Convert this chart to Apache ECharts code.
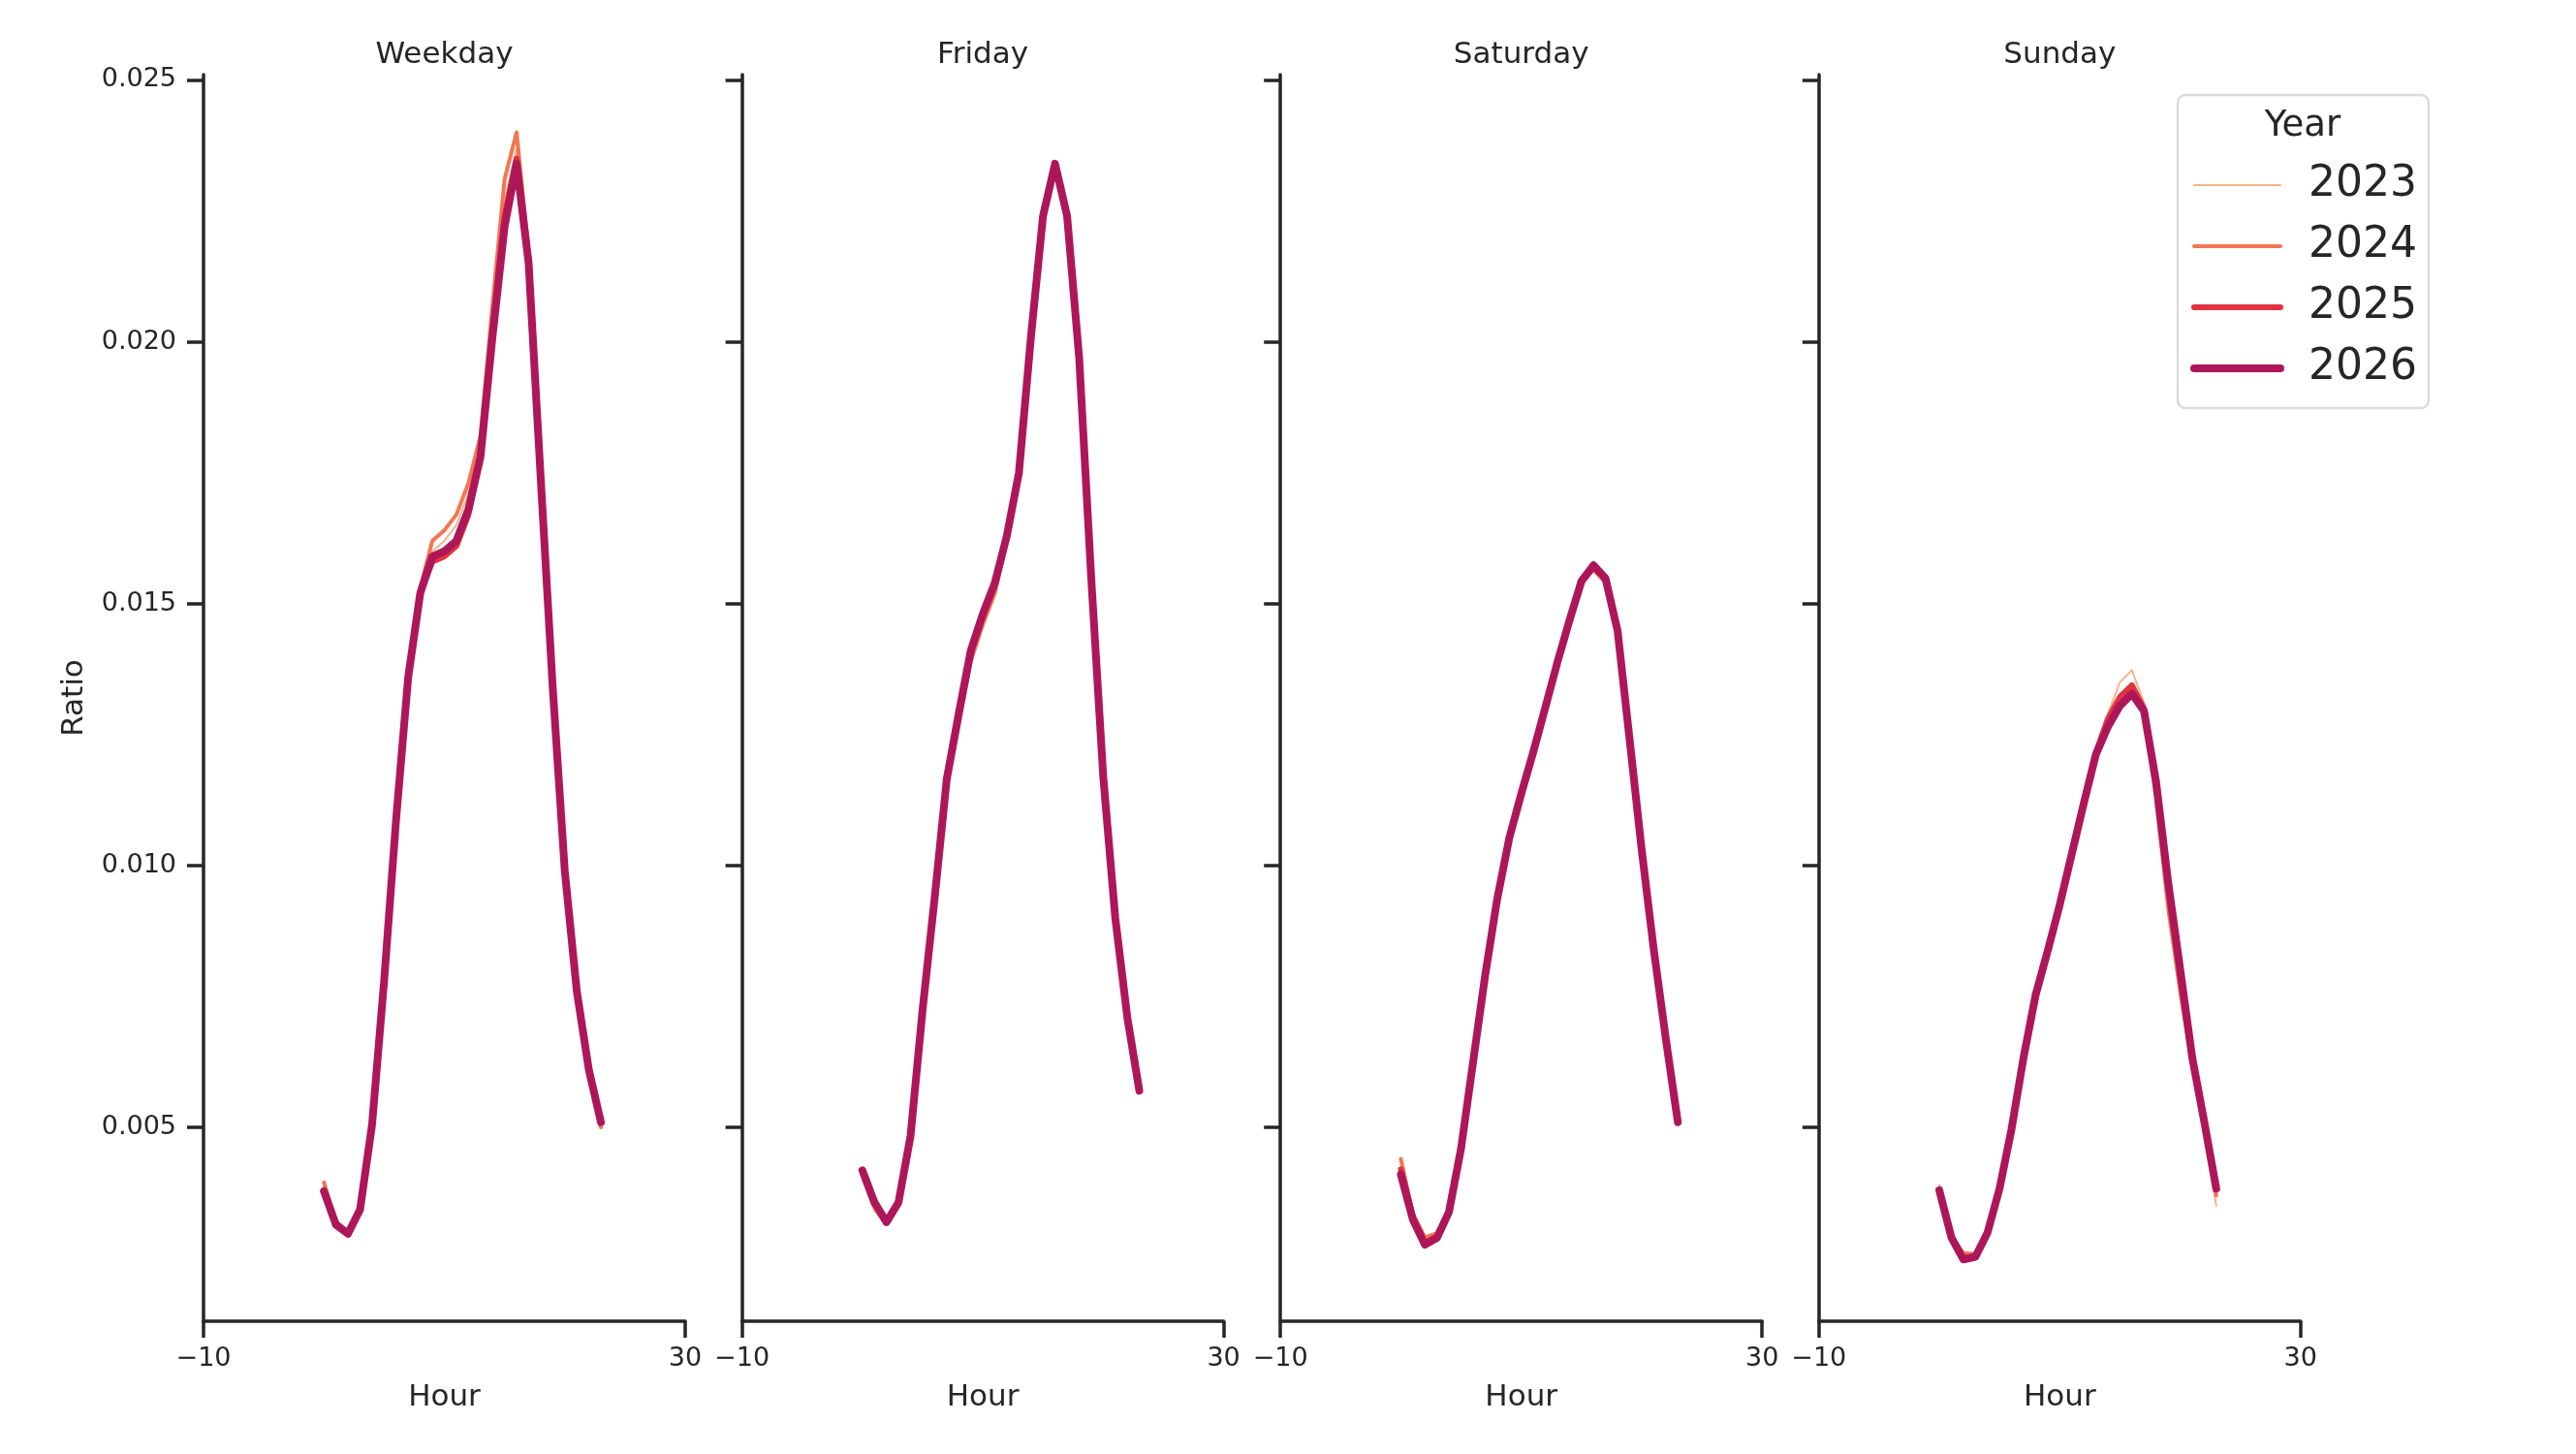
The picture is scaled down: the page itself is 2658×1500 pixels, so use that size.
<!DOCTYPE html>
<html>
<head>
<meta charset="utf-8">
<title>Ratio by hour</title>
<script src="https://cdn.jsdelivr.net/npm/echarts@6/dist/echarts.min.js"></script>
<style>
  html, body { margin: 0; padding: 0; background: #fff; }
  #chart { width: 2658px; height: 1500px; }
</style>
</head>
<body>
<div id="chart"></div>
<script>
// --- data ---
const hours = [0, 1, 2, 3, 4, 5, 6, 7, 8, 9, 10, 11, 12, 13, 14, 15, 16, 17, 18, 19, 20, 21, 22, 23]
const years = ['2023', '2024', '2025', '2026']
const panels = ['Weekday', 'Friday', 'Saturday', 'Sunday']
const xTicks = [-10, 30]
const yTicks = [0.005, 0.010, 0.015, 0.020, 0.025]

const weekday2023 = [0.00390, 0.00318, 0.00300, 0.00344, 0.00505, 0.0078, 0.0109, 0.0136, 0.0153, 0.0160, 0.0162, 0.0165, 0.0171, 0.0180, 0.0204, 0.0227, 0.0237, 0.0216, 0.0175, 0.0134, 0.0099, 0.0076, 0.0061, 0.0050]
const weekday2024 = [0.00395, 0.00320, 0.00300, 0.00345, 0.00505, 0.0078, 0.0109, 0.0136, 0.0153, 0.0162, 0.0164, 0.0167, 0.0173, 0.0182, 0.0207, 0.0231, 0.0240, 0.0217, 0.0175, 0.0134, 0.0099, 0.0076, 0.0061, 0.0050]
const weekday2025 = [0.00380, 0.00316, 0.00298, 0.00345, 0.00508, 0.0078, 0.0109, 0.0136, 0.0152, 0.0158, 0.0159, 0.0161, 0.0167, 0.0178, 0.0202, 0.0224, 0.0235, 0.0215, 0.0174, 0.0134, 0.0099, 0.0076, 0.0061, 0.0051]
const weekday2026 = [0.00378, 0.00314, 0.00297, 0.00343, 0.00506, 0.0078, 0.0109, 0.0136, 0.0152, 0.0159, 0.0160, 0.0162, 0.0168, 0.0178, 0.0201, 0.0222, 0.0234, 0.0215, 0.0174, 0.0134, 0.0099, 0.0076, 0.0061, 0.0051]

const friday2023 = [0.00400, 0.00340, 0.00315, 0.00355, 0.00484, 0.00722, 0.00935, 0.01160, 0.0128, 0.0140, 0.0147, 0.0153, 0.0163, 0.0175, 0.0201, 0.0224, 0.0234, 0.0224, 0.0197, 0.0155, 0.0117, 0.0090, 0.0071, 0.0057]
const friday2024 = [0.00410, 0.00350, 0.00318, 0.00357, 0.00484, 0.00720, 0.00930, 0.01150, 0.0127, 0.0139, 0.0146, 0.0152, 0.0162, 0.0174, 0.0201, 0.0224, 0.0234, 0.0224, 0.0197, 0.0155, 0.0117, 0.0090, 0.0071, 0.0057]
const friday2025 = [0.00415, 0.00355, 0.00319, 0.00357, 0.00484, 0.00725, 0.00938, 0.01162, 0.0129, 0.0141, 0.0148, 0.0154, 0.0163, 0.0175, 0.0201, 0.0224, 0.0234, 0.0224, 0.0197, 0.0155, 0.0117, 0.0090, 0.0071, 0.0057]
const friday2026 = [0.00418, 0.00357, 0.00319, 0.00357, 0.00484, 0.00725, 0.00938, 0.01164, 0.0129, 0.0141, 0.0148, 0.0154, 0.0163, 0.0175, 0.0201, 0.0224, 0.0234, 0.0224, 0.0197, 0.0155, 0.0117, 0.0090, 0.0071, 0.0057]

const saturday2023 = [0.0043, 0.00330, 0.00285, 0.00295, 0.00340, 0.0046, 0.00625, 0.0079, 0.00936, 0.01052, 0.01137, 0.01217, 0.01302, 0.01388, 0.01468, 0.01540, 0.01568, 0.01543, 0.01445, 0.0124, 0.0103, 0.0084, 0.0067, 0.0051]
const saturday2024 = [0.0044, 0.00335, 0.00290, 0.00298, 0.00342, 0.0046, 0.00625, 0.0079, 0.00936, 0.01052, 0.01137, 0.01217, 0.01302, 0.01388, 0.01468, 0.01540, 0.01565, 0.01540, 0.01445, 0.0124, 0.0103, 0.0084, 0.0067, 0.0051]
const saturday2025 = [0.0042, 0.00328, 0.00280, 0.00292, 0.00340, 0.0046, 0.00625, 0.0079, 0.00936, 0.01052, 0.01137, 0.01217, 0.01302, 0.01388, 0.01468, 0.01543, 0.01575, 0.01550, 0.01448, 0.0124, 0.0103, 0.0084, 0.0067, 0.0051]
const saturday2026 = [0.0041, 0.00324, 0.00276, 0.00289, 0.00339, 0.0046, 0.00625, 0.0079, 0.00936, 0.01052, 0.01137, 0.01217, 0.01302, 0.01388, 0.01468, 0.01543, 0.01573, 0.01548, 0.01448, 0.0124, 0.0103, 0.0084, 0.0067, 0.0051]

const sunday2023 = [0.0039, 0.0029, 0.00255, 0.00260, 0.00302, 0.00385, 0.00500, 0.00640, 0.00760, 0.00850, 0.00940, 0.01040, 0.01140, 0.01225, 0.01290, 0.01350, 0.01373, 0.01310, 0.01130, 0.00920, 0.00750, 0.00610, 0.00490, 0.00350]
const sunday2024 = [0.0038, 0.0029, 0.00260, 0.00258, 0.00300, 0.00384, 0.00498, 0.00636, 0.00755, 0.00840, 0.00928, 0.01025, 0.01122, 0.01215, 0.01272, 0.01315, 0.01338, 0.01290, 0.01130, 0.00920, 0.00760, 0.00620, 0.00500, 0.00370]
const sunday2025 = [0.0038, 0.0029, 0.00250, 0.00255, 0.00300, 0.00383, 0.00497, 0.00634, 0.00753, 0.00837, 0.00925, 0.01022, 0.01120, 0.01215, 0.01280, 0.01322, 0.01344, 0.01300, 0.01160, 0.00970, 0.00802, 0.00634, 0.00511, 0.00383]
const sunday2026 = [0.0038, 0.0029, 0.00248, 0.00253, 0.00299, 0.00383, 0.00497, 0.00634, 0.00753, 0.00837, 0.00925, 0.01022, 0.01119, 0.01212, 0.01265, 0.01305, 0.01328, 0.01295, 0.01160, 0.00969, 0.00802, 0.00634, 0.00511, 0.00383]

const panelData = [
  [weekday2023, weekday2024, weekday2025, weekday2026],
  [friday2023, friday2024, friday2025, friday2026],
  [saturday2023, saturday2024, saturday2025, saturday2026],
  [sunday2023, sunday2024, sunday2025, sunday2026],
]

// --- style ---
const ink = '#262626'
const font = 'DejaVu Sans'
const yearColors = ['#f6b48f', '#f37651', '#e13342', '#ad1759']
const yearWidths = [2, 4, 6, 8]

const gridLeft = 210
const gridStep = 555.6
const gridWidth = 497
const gridTop = 77
const gridHeight = 1286

const myChart = echarts.init(document.getElementById('chart'), null, { renderer: 'canvas' })

const grids = panels.map((p, i) => ({
  left: gridLeft + i * gridStep,
  top: gridTop,
  width: gridWidth,
  height: gridHeight,
  containLabel: false,
}))

const xAxes = panels.map((p, i) => ({
  type: 'value',
  gridIndex: i,
  min: -10,
  max: 30,
  name: 'Hour',
  nameLocation: 'middle',
  nameGap: 63,
  nameTextStyle: { fontFamily: font, fontSize: 31, color: ink },
  axisLine: { show: true, onZero: false, lineStyle: { color: ink, width: 3.5 } },
  axisTick: { show: true, customValues: xTicks, length: 17, lineStyle: { color: ink, width: 3.5 } },
  axisLabel: {
    show: true,
    customValues: xTicks,
    margin: 25,
    fontFamily: font,
    fontSize: 27,
    color: ink,
    formatter: v => (v < 0 ? '\u2212' + Math.abs(v) : String(v)),
  },
  splitLine: { show: false },
}))

const yAxes = panels.map((p, i) => ({
  type: 'value',
  gridIndex: i,
  min: 0.0013,
  max: 0.0251,
  name: i === 0 ? 'Ratio' : '',
  nameLocation: 'middle',
  nameGap: 118,
  nameTextStyle: { fontFamily: font, fontSize: 31, color: ink },
  axisLine: { show: true, onZero: false, lineStyle: { color: ink, width: 3.5 } },
  axisTick: { show: true, customValues: yTicks, length: 17, lineStyle: { color: ink, width: 3.5 } },
  axisLabel: {
    show: i === 0,
    customValues: yTicks,
    margin: 28,
    fontFamily: font,
    fontSize: 27,
    color: ink,
    formatter: v => v.toFixed(3),
  },
  splitLine: { show: false },
}))

const series = []
panels.forEach((p, i) => {
  years.forEach((y, j) => {
    series.push({
      type: 'line',
      name: y,
      xAxisIndex: i,
      yAxisIndex: i,
      data: hours.map((h, k) => [h, panelData[i][j][k]]),
      symbol: 'none',
      showSymbol: false,
      smooth: false,
      z: 2 + j,
      color: yearColors[j],
      lineStyle: { color: yearColors[j], width: yearWidths[j], cap: 'round', join: 'round' },
      emphasis: { disabled: true },
      silent: true,
    })
  })
})

// subplot titles and legend title, placed from the grid layout
const graphics = panels.map((p, i) => ({
  type: 'text',
  x: gridLeft + i * gridStep + gridWidth / 2,
  y: 57,
  style: { text: p, fontFamily: font, fontSize: 31, fill: ink, align: 'center', verticalAlign: 'middle' },
}))
graphics.push({
  type: 'text',
  x: 2376,
  y: 130,
  z: 100,
  style: { text: 'Year', fontFamily: font, fontSize: 37, fill: ink, align: 'center', verticalAlign: 'middle' },
})

const option = {
  backgroundColor: '#ffffff',
  animation: false,
  grid: grids,
  xAxis: xAxes,
  yAxis: yAxes,
  legend: {
    data: years.map((y, j) => ({
      name: y,
      lineStyle: { width: yearWidths[j], color: yearColors[j], cap: 'round' },
      itemStyle: { opacity: 0 },
    })),
    orient: 'vertical',
    left: 2247,
    top: 98,
    padding: [68, 12, 16, 13],
    backgroundColor: '#ffffff',
    borderColor: '#dcdcdc',
    borderWidth: 2.5,
    borderRadius: 8,
    itemWidth: 89,
    itemHeight: 4,
    itemGap: 13,
    selectedMode: false,
    textStyle: { fontFamily: font, fontSize: 44, color: ink, lineHeight: 50, padding: [0, 0, 0, 24] },
  },
  graphic: graphics,
  series: series,
}

myChart.setOption(option)
</script>
</body>
</html>
